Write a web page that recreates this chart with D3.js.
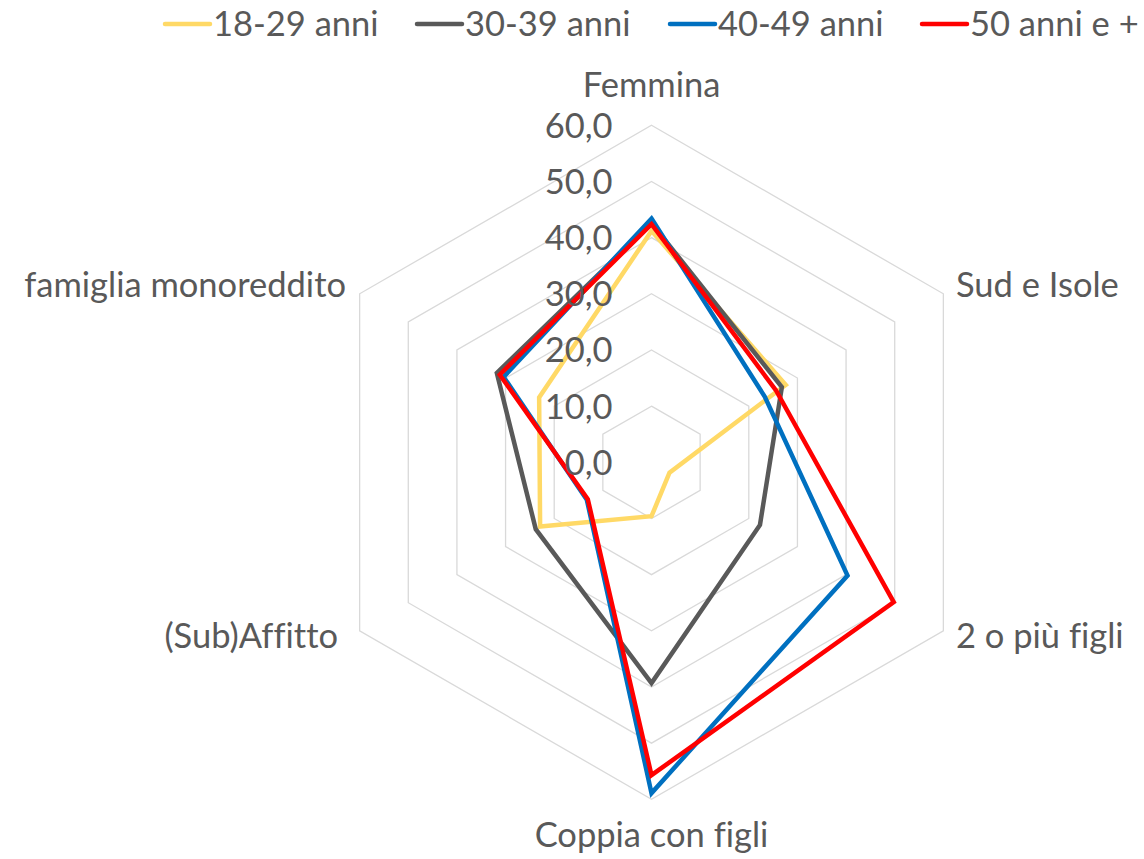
<!DOCTYPE html>
<html>
<head>
<meta charset="utf-8">
<script src="https://cdn.jsdelivr.net/npm/d3@7"></script>
<style>
    body { margin: 0; background: #ffffff; }
    svg text { font-family: Lato, "Liberation Sans", sans-serif; fill: #595959; font-variant-ligatures: none; }
</style>
</head>
<body>
<div id="chart"></div>
<script>
    "use strict";
    //categories of the radar (clockwise from top)
    var categories = ["Femmina", "Sud e Isole", "2 o più figli", "Coppia con figli", "(Sub)Affitto", "famiglia monoreddito"];

    //series names
    var seriesNames = ["18-29 anni", "30-39 anni", "40-49 anni", "50 anni e +"];

    //values, one array per series
    var values1829 = [41.2, 27.6, 3.7, 9.6, 22.9, 23.1];
    var values3039 = [42.6, 26.8, 22.3, 39.3, 23.8, 31.8];
    var values4049 = [43.4, 23.3, 40.3, 58.9, 13.3, 30.4];
    var values50 = [42.4, 25.6, 49.8, 55.7, 13.1, 31.2];

    //axis ticks
    var tickValues = [0, 10, 20, 30, 40, 50, 60];

    var seriesColors = ["#FFD966", "#595959", "#0070C0", "#FF0000"];

    var width = 1144, height = 859;
    var cx = 651.5, cy = 462.3;
    var radius = 337;
    var fontSize = 34.5;

    var svg = d3.select("#chart")
        .append("svg")
        .attr("xmlns", "http://www.w3.org/2000/svg")
        .attr("width", width)
        .attr("height", height);

    var r = d3.scaleLinear().domain([0, 60]).range([0, radius]);

    var angle = function (i) {
        return i * 2 * Math.PI / categories.length;
    };
    //point at value v on axis i
    var pt = function (v, i) {
        return [cx + r(v) * Math.sin(angle(i)), cy - r(v) * Math.cos(angle(i))];
    };

    //hexagon gridlines
    var grid = svg.append("g").attr("class", "grid");
    grid.selectAll("path")
        .data(tickValues.filter(function (t) { return t > 0; }))
        .enter()
        .append("path")
        .attr("d", function (t) {
            return d3.line()(categories.map(function (c, i) { return pt(t, i); })) + "Z";
        })
        .attr("fill", "none")
        .attr("stroke", "#D9D9D9")
        .attr("stroke-width", 1.3);

    //series lines
    var allSeries = [values1829, values3039, values4049, values50];
    var radarLine = d3.lineRadial()
        .angle(function (d, i) { return angle(i); })
        .radius(function (d) { return r(d); })
        .curve(d3.curveLinearClosed);

    svg.append("g")
        .attr("transform", "translate(" + cx + "," + cy + ")")
        .selectAll("path")
        .data(allSeries)
        .enter()
        .append("path")
        .attr("d", radarLine)
        .attr("fill", "none")
        .attr("stroke", function (d, i) { return seriesColors[i]; })
        .attr("stroke-width", 4.5)
        .attr("stroke-linejoin", "miter");

    //tick labels along the top axis
    svg.append("g")
        .selectAll("text")
        .data(tickValues)
        .enter()
        .append("text")
        .attr("x", cx - 39)
        .attr("y", function (t) { return cy - r(t); })
        .attr("dy", "0.36em")
        .attr("text-anchor", "end")
        .attr("font-size", fontSize + "px")
        .text(function (t) { return d3.format(".1f")(t).replace(".", ","); });

    //category labels
    var labelPos = [
        {x: cx, y: 97, anchor: "middle"},
        {x: 956, y: 297, anchor: "start"},
        {x: 956, y: 648, anchor: "start"},
        {x: cx, y: 847, anchor: "middle"},
        {x: 338, y: 648, anchor: "end"},
        {x: 346, y: 297, anchor: "end"}
    ];
    svg.append("g")
        .selectAll("text")
        .data(categories)
        .enter()
        .append("text")
        .attr("x", function (d, i) { return labelPos[i].x; })
        .attr("y", function (d, i) { return labelPos[i].y; })
        .attr("text-anchor", function (d, i) { return labelPos[i].anchor; })
        .attr("font-size", fontSize + "px")
        .text(function (d) { return d; });

    //legend
    var legendX = [163, 415, 668, 920];
    var legend = svg.append("g").attr("class", "legend");
    var item = legend.selectAll("g")
        .data(seriesNames)
        .enter()
        .append("g")
        .attr("transform", function (d, i) { return "translate(" + legendX[i] + ",24)"; });
    item.append("line")
        .attr("x1", 2).attr("x2", 47)
        .attr("y1", 0).attr("y2", 0)
        .attr("stroke", function (d, i) { return seriesColors[i]; })
        .attr("stroke-width", 4.5)
        .attr("stroke-linecap", "round");
    item.append("text")
        .attr("x", 50)
        .attr("y", 0)
        .attr("dy", "0.36em")
        .attr("font-size", fontSize + "px")
        .text(function (d) { return d; });
</script>
</body>
</html>
